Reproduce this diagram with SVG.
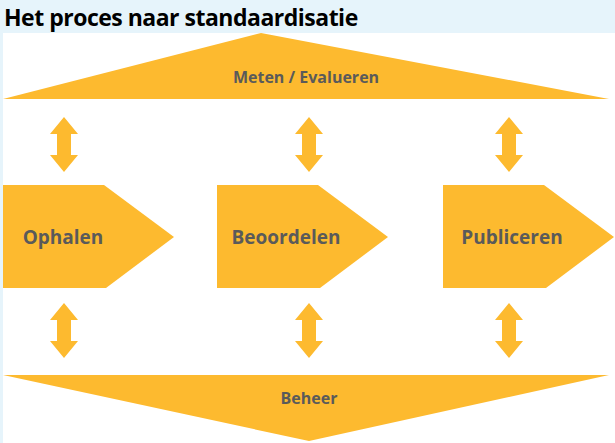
<svg xmlns="http://www.w3.org/2000/svg" width="615" height="443" viewBox="0 0 615 443">
<defs>
<style>
.s{fill:#FDBA2F}
.t{font-family:"Open Sans","Liberation Sans",sans-serif;font-weight:bold;fill:#5a5a5a;text-anchor:middle}
</style>
<path id="dbl" class="s" d="M0,0 L14,17 L7,17 L7,38 L14,38 L0,55 L-14,38 L-7,38 L-7,17 L-14,17 Z"/>
</defs>
<rect width="615" height="443" fill="#fff"/>
<rect width="615" height="33" fill="#E6F4FB"/>
<rect width="3" height="443" fill="#E6F4FB"/>
<text x="4" y="26" font-family="'Open Sans','Liberation Sans',sans-serif" font-weight="bold" font-size="23" fill="#000" letter-spacing="-0.5">Het proces naar standaardisatie</text>
<g id="meten"><path class="s" d="M261,33 L609,99 L3,99 Z"/><text class="t" x="306" y="83" font-size="16">Meten / Evalueren</text></g>
<g id="ophalen"><path class="s" d="M3,185 L104,185 L174,237 L106,288 L3,288 Z"/><text class="t" x="63" y="244" font-size="19">Ophalen</text></g>
<g id="beoordelen"><path class="s" d="M217,185 L318,185 L388,237 L320,288 L217,288 Z"/><text class="t" x="286" y="244" font-size="19">Beoordelen</text></g>
<g id="publiceren"><path class="s" d="M443,185 L544,185 L614,237 L546,288 L443,288 Z"/><text class="t" x="512" y="244" font-size="19">Publiceren</text></g>
<g id="beheer"><path class="s" d="M3,375 L609,375 L309,441 Z"/><text class="t" x="309" y="404" font-size="16">Beheer</text></g>
<g id="connectors">
<use href="#dbl" x="64" y="117"/><use href="#dbl" x="309" y="117"/><use href="#dbl" x="509" y="117"/>
<use href="#dbl" x="64" y="303"/><use href="#dbl" x="309" y="303"/><use href="#dbl" x="509" y="303"/>
</g>
</svg>
